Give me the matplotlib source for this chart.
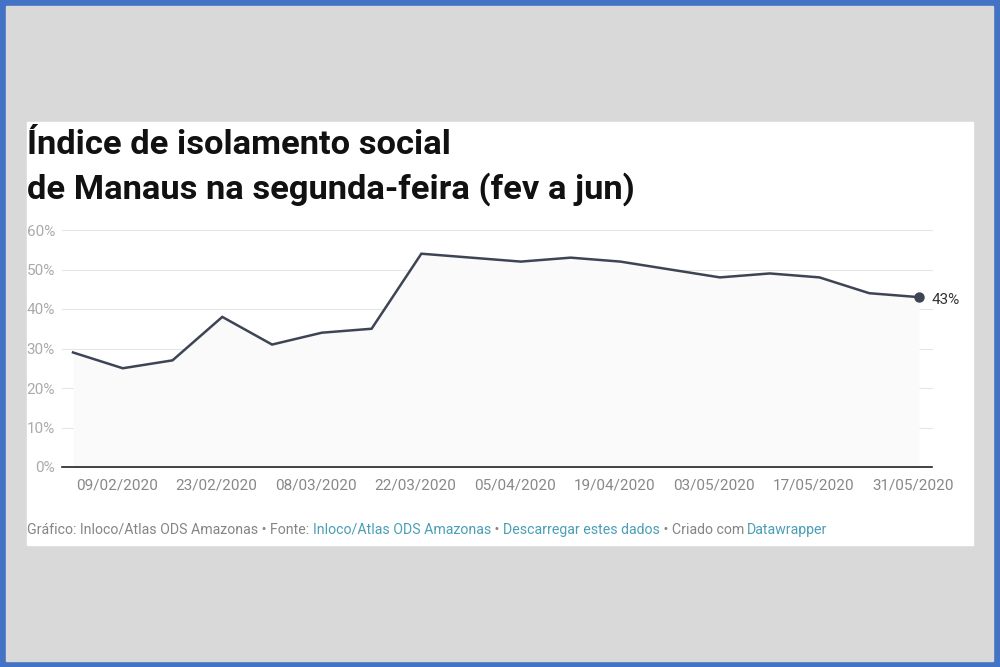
import datetime as dt
import matplotlib
matplotlib.use("Agg")
import matplotlib.pyplot as plt
import matplotlib.transforms as mtransforms
from matplotlib.patches import Rectangle

# Weekly Monday isolation index, Manaus (Feb-Jun 2020)
dates = ["02/02/2020", "09/02/2020", "16/02/2020", "23/02/2020", "01/03/2020",
         "08/03/2020", "15/03/2020", "22/03/2020", "29/03/2020", "05/04/2020",
         "12/04/2020", "19/04/2020", "26/04/2020", "03/05/2020", "10/05/2020",
         "17/05/2020", "24/05/2020", "31/05/2020"]
values = [29, 25, 27, 38, 31, 34, 35, 54, 53, 52, 53, 52, 50, 48, 49, 48, 44, 43]
tick_dates = ["09/02/2020", "23/02/2020", "08/03/2020", "22/03/2020", "05/04/2020",
              "19/04/2020", "03/05/2020", "17/05/2020", "31/05/2020"]
y_ticks = [0, 10, 20, 30, 40, 50, 60]

title_1 = "Índice de isolamento social"
title_2 = "de Manaus na segunda-feira (fev a jun)"
footer = [("Gráfico: Inloco/Atlas ODS Amazonas • Fonte: ", "#858585"),
          ("Inloco/Atlas ODS Amazonas", "#4a9fb5"),
          (" • ", "#858585"),
          ("Descarregar estes dados", "#4a9fb5"),
          (" • Criado com ", "#858585"),
          ("Datawrapper", "#4a9fb5")]

plt.rcParams['font.family'] = ['Roboto', 'DejaVu Sans']

W, H = 1000, 667
fig = plt.figure(figsize=(10, 6.67), dpi=100)
fig.patch.set_facecolor('#4472c4')

def px(x0, y0, w, h, color):
    # rectangle in pixel coords (top-left origin)
    fig.patches.append(Rectangle((x0 / W, 1 - (y0 + h) / H), w / W, h / H,
                                 transform=fig.transFigure, color=color, zorder=-10))

px(6, 6, 987, 655, '#d9d9d9')
px(27, 122, 946, 423, 'white')

x = [dt.datetime.strptime(d, "%d/%m/%Y") for d in dates]
ticks = [dt.datetime.strptime(d, "%d/%m/%Y") for d in tick_dates]

# axes: 0% at y=467px, 61% at top; x from 62 to 932 px
ax_left, ax_right = 62, 932
ytop = 467 - 237 * 61 / 60
ax = fig.add_axes([ax_left / W, 1 - 467 / H, (ax_right - ax_left) / W, (467 - ytop) / H])
ax.set_facecolor('none')

week_px = (919 - 73) / 17
pad_l = (73 - ax_left) / week_px * 7
pad_r = (ax_right - 919) / week_px * 7
ax.set_xlim(x[0] - dt.timedelta(days=pad_l), x[-1] + dt.timedelta(days=pad_r))
ax.set_ylim(0, 61)

ax.fill_between(x, values, 0, color='#fafafb', lw=0, zorder=1)
ax.plot(x, values, color='#3d4555', lw=1.8, zorder=3, solid_joinstyle='miter')
ax.plot(x[-1], values[-1], 'o', color='#3d4555', ms=6.5, zorder=4, clip_on=False)
ax.annotate(f"{values[-1]}%", (x[-1], values[-1]), xytext=(9, -2),
            textcoords='offset points', va='center', ha='left',
            fontsize=11, color='#333333', annotation_clip=False)

for s in ax.spines.values():
    s.set_visible(False)
ax.axhline(0, color='#222222', lw=1.2, zorder=5, clip_on=False)
for yv in y_ticks[1:]:
    ax.axhline(yv, color='#e6e6e6', lw=0.8, zorder=0, clip_on=False)

ax.set_yticks(y_ticks)
ax.set_yticklabels([f"{v}%" for v in y_ticks])
ax.set_xticks(ticks)
ax.set_xticklabels(tick_dates)
ax.tick_params(axis='y', length=0, pad=5, labelsize=11, labelcolor='#aaaaaa')
ax.tick_params(axis='x', length=0, pad=8, labelsize=11, labelcolor='#888888')
shift = mtransforms.ScaledTranslation(-6 / 100, 0, fig.dpi_scale_trans)
for lab in ax.get_xticklabels():
    lab.set_transform(lab.get_transform() + shift)

fig.text(27 / W, 1 - 154 / H, title_1, fontsize=24.8, fontweight='bold',
         color='#111111', va='baseline', ha='left')
fig.text(27 / W, 1 - 199 / H, title_2, fontsize=24.8, fontweight='bold',
         color='#111111', va='baseline', ha='left')

# footer in several colours: measure each prefix with a trailing marker so spaces count
renderer = fig.canvas.get_renderer()

def text_width(s):
    t = fig.text(0, 0, s, fontsize=10.2)
    w = t.get_window_extent(renderer).width
    t.remove()
    return w

marker_w = text_width("x")
prefix = ""
for txt, col in footer:
    xpos = 27 + (text_width(prefix + "x") - marker_w if prefix else 0)
    fig.text(xpos / W, 1 - 534 / H, txt, fontsize=10.2, color=col,
             va='baseline', ha='left')
    prefix += txt

fig.savefig('out.png', dpi=100, facecolor=fig.get_facecolor())
